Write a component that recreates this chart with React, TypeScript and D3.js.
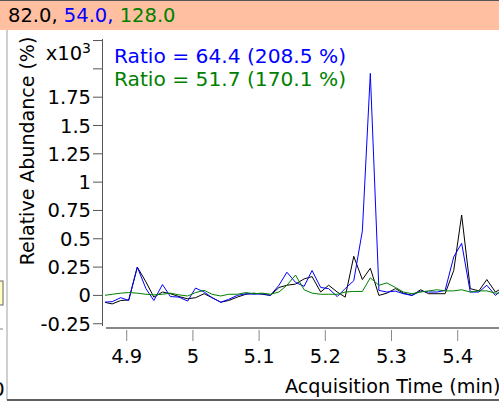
import * as d3 from "d3";

// acquisition times (min) of the sampled points
const times = [
  4.866, 4.878, 4.891, 4.903, 4.916, 4.929, 4.941, 4.954, 4.966, 4.979,
  4.992, 5.004, 5.017, 5.029, 5.042, 5.054, 5.067, 5.08, 5.092, 5.105,
  5.117, 5.13, 5.142, 5.155, 5.168, 5.18, 5.193, 5.205, 5.218, 5.23,
  5.243, 5.256, 5.268, 5.281, 5.293, 5.306, 5.318, 5.331, 5.344, 5.356,
  5.369, 5.381, 5.394, 5.406, 5.419, 5.432, 5.444, 5.457, 5.469,
];

// relative abundance, x10^3 %
const trace82 = [
  -0.06, -0.075, -0.045, -0.04, 0.25, 0.12, -0.015, 0.03, 0.015, -0.01,
  -0.03, -0.02, 0.015, -0.02, -0.06, -0.045, -0.015, 0.01, 0.02, 0.01,
  0, 0.07, 0.09, 0.1, 0.146, 0.166, 0.03, 0.09, 0.03, -0.015,
  0.345, 0.14, 0.24, 0, 0.02, 0.06, 0.02, 0, 0.05, 0.015,
  0.015, 0.015, 0.22, 0.71, 0.06, 0.04, 0.14, 0.03, 0.07,
];
const trace54 = [
  -0.06, -0.055, -0.02, -0.045, 0.25, 0.06, -0.045, 0.096, -0.01, -0.015,
  -0.05, 0.065, 0.03, -0.02, -0.06, -0.035, 0, 0.015, 0.01, 0.015,
  0, 0.09, 0.205, 0.115, 0.08, 0.22, 0.07, 0.06, -0.01, 0.06,
  0.13, 0.57, 1.96, 0.044, 0.03, 0.038, 0.015, 0, 0.038, 0.03,
  0.03, 0.044, 0.34, 0.46, 0.03, 0.03, 0.09, 0, 0.06,
];
const trace128 = [
  0, 0.01, 0.02, 0.025, 0.02, 0.01, 0.005, 0.01, 0.02, 0.005,
  -0.005, 0.025, 0.045, 0.01, -0.005, 0.01, 0.01, 0.025, 0.015, 0.02,
  0.01, 0.03, 0.09, 0.18, 0.05, 0.02, 0.01, 0.01, 0.01, 0.03,
  0.035, 0.035, 0.155, 0.09, 0.11, 0.07, 0.03, 0.015, 0.03, 0.04,
  0.05, 0.04, 0.04, 0.05, 0.03, 0.04, 0.04, 0.02, 0.02,
];

const ions = ["82.0", "54.0", "128.0"];
const colors = ["#000000", "#0000ff", "#008000"];
const ratios = ["Ratio = 64.4 (208.5 %)", "Ratio = 51.7 (170.1 %)"];

const xTicks = [4.9, 5, 5.1, 5.2, 5.3, 5.4];
const yTicks = [-0.25, 0, 0.25, 0.5, 0.75, 1, 1.25, 1.5, 1.75, 2, 2.25];
const yTickLabels = ["-0.25", "0", "0.25", "0.5", "0.75", "1", "1.25", "1.5", "1.75", "", ""];

const W = 499;
const H = 402;
const font = "'DejaVu Sans', Verdana, sans-serif";

export default function App() {
  const x = d3.scaleLinear().domain([4.8687, 5.4624]).range([106, 499]);
  const y = d3.scaleLinear().domain([-0.27, 2.26]).range([326, 39.4]);

  const series = [trace82, trace54, trace128];
  const line = d3.line<number>()
    .x((_, i) => x(times[i]))
    .y(d => y(d));

  return (
    <svg
      width={W}
      height={H}
      style={{ position: "absolute", left: 0, top: 0, background: "#fff" }}
      fontFamily={font}
    >
      <defs>
        <clipPath id="plot">
          <rect x={105} y={30} width={W - 105} height={298} />
        </clipPath>
      </defs>

      {/* header strip */}
      <rect x={0} y={0} width={W} height={30} fill="#ffbfa0" />
      <line x1={0} x2={W} y1={0.5} y2={0.5} stroke="#555" />
      <text x={8} y={22} fontSize={19.5}>
        {ions.map((d, i) => (
          <tspan key={i} fill={colors[i]}>{d}{i < ions.length - 1 ? ", " : ""}</tspan>
        ))}
      </text>

      {/* pane frame bits */}
      <line x1={7} x2={7} y1={30} y2={400} stroke="#a0a0a0" />
      <line x1={7} x2={W} y1={400} y2={400} stroke="#606060" strokeWidth={2} />
      <rect x={-1} y={281} width={4} height={24} fill="#ffffc0" stroke="#666" />
      <line x1={0} x2={3} y1={329} y2={329} stroke="#888" />
      <text x={-8} y={396} fontSize={20}>0</text>

      {/* y axis */}
      <line x1={102.5} x2={102.5} y1={39} y2={326} stroke="#555" />
      {yTicks.map((t, i) => (
        <g key={i} transform={`translate(0,${y(t)})`}>
          <line x1={93} x2={102} stroke="#555" />
          {yTickLabels[i] && (
            <text x={91} dy="0.36em" textAnchor="end" fontSize={19.5}>{yTickLabels[i]}</text>
          )}
        </g>
      ))}
      <text x={91} y={60} textAnchor="end" fontSize={19.5}>
        x10<tspan dy={-7} fontSize={14}>3</tspan>
      </text>
      <text transform="translate(34,151) rotate(-90)" textAnchor="middle" fontSize={19}>
        Relative Abundance (%)
      </text>

      {/* x axis */}
      <line x1={106} x2={W} y1={328} y2={328} stroke="#888" strokeWidth={2} />
      {xTicks.map((t, i) => (
        <g key={i} transform={`translate(${x(t)},0)`}>
          <line y1={330} y2={341} stroke="#888" />
          <text y={363} textAnchor="middle" fontSize={19.5}>{String(t)}</text>
        </g>
      ))}
      <text x={285} y={393} fontSize={19.2}>Acquisition Time (min)</text>

      {/* traces */}
      <g clipPath="url(#plot)">
        {series.map((s, i) => (
          <path key={i} d={line(s) ?? ""} fill="none" stroke={colors[i]} strokeWidth={1} />
        ))}
      </g>

      {/* ratio legend */}
      {ratios.map((r, i) => (
        <text key={i} x={114} y={63 + i * 23} fontSize={20.2} fill={colors[i + 1]}>{r}</text>
      ))}
    </svg>
  );
}
